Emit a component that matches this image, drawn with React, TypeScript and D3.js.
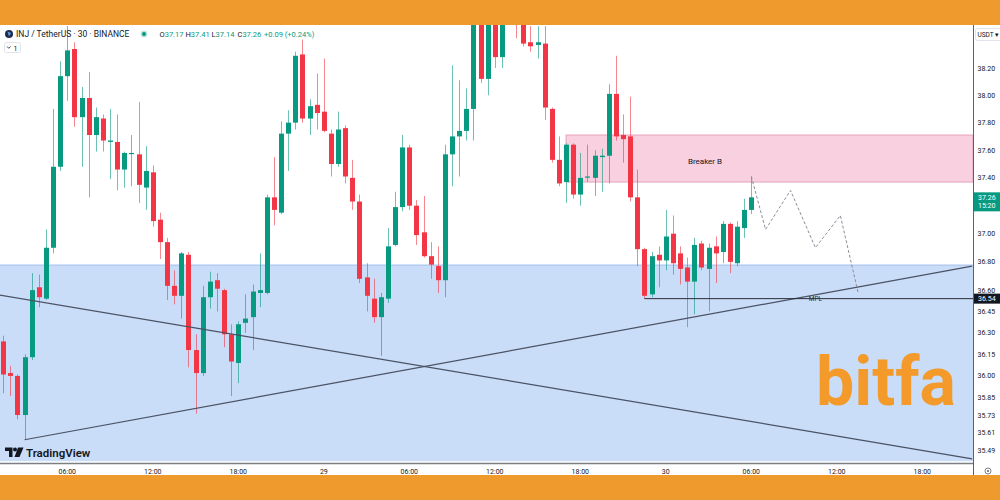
import React from 'react';
import * as d3 from 'd3';

// ---- data (30-min candles, INJ/USDT) ----
const opens = [36.24,36.02,36.00,35.73,36.13,36.62,36.54,36.90,37.48,38.14,38.34,37.84,37.98,37.71,37.83,37.66,37.66,37.46,37.58,37.57,37.33,37.44,37.10,36.94,36.63,36.56,36.85,36.18,36.02,36.55,36.67,36.60,36.29,36.09,36.37,36.41,36.58,36.58,37.26,37.15,37.72,37.80,38.30,37.83,37.93,37.88,37.72,37.50,37.76,37.40,37.23,36.69,36.54,36.41,36.54,36.92,37.19,37.62,37.20,37.01,36.84,36.77,36.67,37.57,37.70,37.74,37.90,38.60,38.12,38.62,38.28,38.62,38.64,38.55,38.39,38.37,38.38,37.90,37.53,37.37,37.64,37.28,37.41,37.40,37.55,37.56,38.01,37.71,37.70,37.26,36.89,36.57,36.85,36.81,37.00,36.86,36.76,36.66,36.93,36.75,36.91,36.87,37.07,36.79,37.04,37.17];
const highs = [36.28,36.07,36.01,36.15,36.72,36.71,37.03,37.90,38.25,38.51,38.39,38.06,38.17,37.91,37.86,37.90,37.86,37.59,37.71,37.95,37.63,37.49,37.15,36.97,36.74,36.87,36.87,36.29,36.63,36.73,36.72,36.61,36.36,36.38,36.57,36.64,36.86,37.28,37.55,37.81,37.89,38.32,38.41,37.97,38.16,38.27,37.75,37.88,37.78,37.53,37.28,36.79,36.68,36.58,37.04,37.30,37.71,37.64,37.24,37.27,36.94,36.91,37.64,38.22,38.11,38.05,38.70,38.70,38.72,38.72,38.74,38.75,38.70,38.60,38.51,38.51,38.51,37.91,37.70,37.65,37.65,37.58,37.64,37.60,37.61,38.08,38.29,37.86,37.99,37.46,36.90,36.87,36.91,37.17,37.13,36.91,36.83,36.97,36.95,36.93,36.98,37.09,37.08,37.09,37.25,37.41];
const lows = [35.88,35.86,35.70,35.56,36.11,36.48,36.53,36.86,37.45,37.96,37.77,37.48,37.26,37.59,37.59,37.39,37.31,37.33,37.34,37.22,37.17,37.05,36.82,36.53,36.50,36.40,36.06,35.74,36.00,36.47,36.45,36.20,35.86,35.95,36.30,36.18,36.48,36.57,37.06,37.14,37.45,37.75,37.80,37.71,37.75,37.73,37.41,37.48,37.36,37.17,36.65,36.45,36.37,36.14,36.51,36.91,37.16,37.17,36.92,36.83,36.68,36.58,36.55,37.34,37.41,37.67,37.67,38.09,38.00,38.20,38.20,38.55,38.42,38.36,38.32,38.27,37.82,37.51,37.34,37.22,37.25,37.20,37.37,37.27,37.30,37.36,37.67,37.51,37.23,36.77,36.54,36.55,36.62,36.74,36.71,36.64,36.34,36.43,36.74,36.45,36.65,36.79,36.72,36.77,36.97,37.14];
const closes = [36.01,36.00,35.73,36.13,36.60,36.55,36.90,37.48,38.14,38.33,37.84,37.98,37.71,37.84,37.67,37.67,37.46,37.58,37.58,37.35,37.45,37.09,36.94,36.63,36.56,36.86,36.18,36.02,36.55,36.66,36.61,36.29,36.10,36.36,36.40,36.59,36.60,37.26,37.17,37.72,37.80,38.29,37.83,37.92,37.87,37.74,37.50,37.75,37.41,37.23,36.68,36.56,36.41,36.55,36.91,37.19,37.62,37.20,36.99,36.84,36.78,36.67,37.57,37.70,37.74,37.90,38.60,38.12,38.62,38.28,38.62,38.66,38.55,38.38,38.36,38.39,37.91,37.53,37.36,37.64,37.28,37.40,37.41,37.56,37.56,38.01,37.70,37.68,37.26,36.89,36.56,36.84,36.81,36.98,36.79,36.75,36.66,36.92,36.76,36.90,36.86,37.07,36.80,37.05,37.17,37.26];

const timeTickIdx = [9, 21, 33, 45, 57, 69, 81, 93, 105, 117, 129];
const timeTickLabels = ['06:00', '12:00', '18:00', '29', '06:00', '12:00', '18:00', '30', '06:00', '12:00', '18:00'];
const priceTicks = [38.2, 38.0, 37.8, 37.6, 37.4, 37.0, 36.8, 36.6, 36.45, 36.3, 36.15, 36.0, 35.85, 35.73, 35.61, 35.49];

// drawings
const breakerTop = 37.71;
const breakerBottom = 37.37;
const breakerStartIdx = 79;
const breakerLabelIdx = 98.5;
const demandTop = 36.78;
const trend1Idx = [-1, 136];
const trend1Price = [36.57, 35.43];
const trend2Idx = [3, 136];
const trend2Price = [35.56, 36.77];
const mplPrice = 36.54;
const mplStartIdx = 90;
const mplLabelIdx = 114;
const projIdx = [105, 107, 110.5, 114, 117.5, 120];
const projPrice = [37.41, 37.03, 37.31, 36.9, 37.13, 36.58];

const GREEN = '#089981';
const RED = '#f23645';
const ORANGE = '#ef9a2d';
const FONT = 'Roboto, "Noto Sans", sans-serif';

export default function App() {
  const W = 1000, H = 500;
  const plotRight = 973, plotTop = 25, plotBottom = 461.5;
  const x = d3.scaleLinear().domain([0, 105]).range([3.2, 751.3]);
  const y = d3.scaleLog().domain([35.49, 38.2]).range([450, 68]);
  const last = closes.length - 1;
  const lastClose = closes[last];

  const projLine = d3.line<number>()
    .x((_, k) => x(projIdx[k]))
    .y((p) => y(p));

  return (
    <svg width={W} height={H} viewBox={`0 0 ${W} ${H}`}
      style={{ position: 'absolute', left: 0, top: 0, display: 'block', fontFamily: FONT }}>
      <defs>
        <clipPath id="plot">
          <rect x={0} y={plotTop} width={plotRight} height={plotBottom - plotTop} />
        </clipPath>
      </defs>
      <rect x={0} y={0} width={W} height={H} fill="#ffffff" />

      <g clipPath="url(#plot)">
        {/* demand zone */}
        <rect x={0} y={y(demandTop)} width={plotRight} height={plotBottom - y(demandTop)} fill="#c9dcf8" />
        <line x1={0} x2={plotRight} y1={y(demandTop) + 0.5} y2={y(demandTop) + 0.5} stroke="#a9c2ea" strokeWidth={1} />
        {/* breaker box */}
        <rect x={x(breakerStartIdx)} y={y(breakerTop)} width={plotRight - x(breakerStartIdx)}
          height={y(breakerBottom) - y(breakerTop)} fill="#f8d0df" stroke="#e6a3bb" strokeWidth={1} />

        {/* candles */}
        {opens.map((o, i) => {
          const c = closes[i];
          const up = c >= o;
          const col = up ? GREEN : RED;
          const cx = Math.round(x(i)) + 0.5;
          const yt = y(Math.max(o, c));
          const yb = y(Math.min(o, c));
          return (
            <g key={i}>
              <line x1={cx} x2={cx} y1={y(highs[i])} y2={y(lows[i])} stroke={col} strokeOpacity={0.6} strokeWidth={1} />
              <rect x={cx - 2.5} y={yt} width={5} height={Math.max(1.2, yb - yt)} fill={col} />
            </g>
          );
        })}

        {/* trend lines */}
        <line x1={x(trend1Idx[0])} y1={y(trend1Price[0])} x2={x(trend1Idx[1])} y2={y(trend1Price[1])}
          stroke="#4b5263" strokeWidth={1.2} />
        <line x1={x(trend2Idx[0])} y1={y(trend2Price[0])} x2={x(trend2Idx[1])} y2={y(trend2Price[1])}
          stroke="#4b5263" strokeWidth={1.2} />
        {/* MPL */}
        <line x1={x(mplStartIdx)} x2={plotRight} y1={y(mplPrice)} y2={y(mplPrice)} stroke="#2a2e39" strokeWidth={1} />
        <text x={x(mplLabelIdx)} y={y(mplPrice) + 2.3} fontSize={6.5} textAnchor="middle" fill="#2a2e39">MPL</text>
        {/* projection */}
        <path d={projLine(projPrice) || ''} fill="none" stroke="#8a8e99" strokeWidth={1} strokeDasharray="3,2" />
        <text x={x(breakerLabelIdx)} y={(y(breakerTop) + y(breakerBottom)) / 2 + 5} fontSize={8} textAnchor="middle" fill="#131722">Breaker B</text>
      </g>

      {/* bitfa watermark */}
      <text x={816} y={405} fontSize={68} fontWeight={700} fill="#f39a2b" fontFamily="Roboto, sans-serif">bitfa</text>

      {/* TradingView logo */}
      <g fill="#131722">
        <path d="M5,447.5 H12.5 V457 H9 V451 H5 Z" />
        <circle cx={15} cy={449.6} r={2} />
        <path d="M18,447.5 H23.5 L19.5,457 H14.5 Z" />
        <text x={26} y={456.5} fontSize={11.5} fontWeight={600} fontFamily="Roboto, sans-serif">TradingView</text>
      </g>

      {/* time axis */}
      <line x1={0} x2={plotRight} y1={463.5} y2={463.5} stroke="#7d7f86" strokeWidth={1.5} />
      {timeTickIdx.map((t, k) => (
        <text key={k} x={x(t)} y={474} fontSize={7} textAnchor="middle" fill="#131722">{timeTickLabels[k]}</text>
      ))}

      {/* price axis */}
      <line x1={plotRight + 0.5} x2={plotRight + 0.5} y1={plotTop} y2={475} stroke="#5d6068" strokeWidth={1} />
      {priceTicks.map((p) => (
        <text key={p} x={977.5} y={y(p) + 2.5} fontSize={7} fill="#131722">{p.toFixed(2)}</text>
      ))}
      <rect x={975.5} y={28.5} width={26} height={12} rx={2} fill="#ffffff" stroke="#e0e3eb" />
      <text x={977.5} y={37} fontSize={6.5} fill="#131722">USDT ▾</text>
      {/* last price tag */}
      <rect x={974} y={y(lastClose) - 5} width={26} height={19} fill={GREEN} />
      <text x={978} y={y(lastClose) + 2.5} fontSize={7} fill="#ffffff">{lastClose.toFixed(2)}</text>
      <text x={978} y={y(lastClose) + 10.5} fontSize={7} fill="#ffffff">15:20</text>
      {/* MPL tag */}
      <rect x={974} y={y(mplPrice) - 5} width={26} height={10} fill="#131722" />
      <text x={978} y={y(mplPrice) + 2.5} fontSize={7} fill="#ffffff">{mplPrice.toFixed(2)}</text>
      {/* settings icon */}
      <circle cx={988} cy={471} r={3} fill="none" stroke="#5d6068" strokeWidth={0.8} />
      <circle cx={988} cy={471} r={1} fill="#5d6068" />

      {/* header */}
      <circle cx={9} cy={34} r={4} fill="#1e2b4a" />
      <path d="M7.5,31.5 L11,33 L9,36.5 Z" fill="#5aa0e6" />
      <text x={16} y={37} fontSize={8.5} fill="#131722">INJ / TetherUS · 30 · BINANCE</text>
      <circle cx={144} cy={34} r={3.5} fill={GREEN} fillOpacity={0.25} />
      <circle cx={144} cy={34} r={2} fill={GREEN} />
      {[
        ['O', opens[last], 159.5],
        ['H', highs[last], 185.5],
        ['L', lows[last], 211.5],
        ['C', lastClose, 237.5],
      ].map(([k, v, px]) => (
        <text key={k as string} x={px as number} y={37} fontSize={7.5}>
          <tspan fill="#131722">{k as string}</tspan>
          <tspan fill={GREEN}>{(v as number).toFixed(2)}</tspan>
        </text>
      ))}
      <text x={264} y={37} fontSize={7.5} fill={GREEN}>+0.09 (+0.24%)</text>
      <rect x={4.5} y={42.5} width={16} height={10} rx={2} fill="#ffffff" stroke="#e0e3eb" />
      <path d="M7,46.5 L8.8,48.3 L10.6,46.5" fill="none" stroke="#131722" strokeWidth={0.8} />
      <text x={13.5} y={50.5} fontSize={7} fill="#131722">1</text>

      {/* orange frame bands */}
      <rect x={0} y={0} width={W} height={25} fill={ORANGE} />
      <rect x={0} y={475} width={W} height={25} fill={ORANGE} />
    </svg>
  );
}
